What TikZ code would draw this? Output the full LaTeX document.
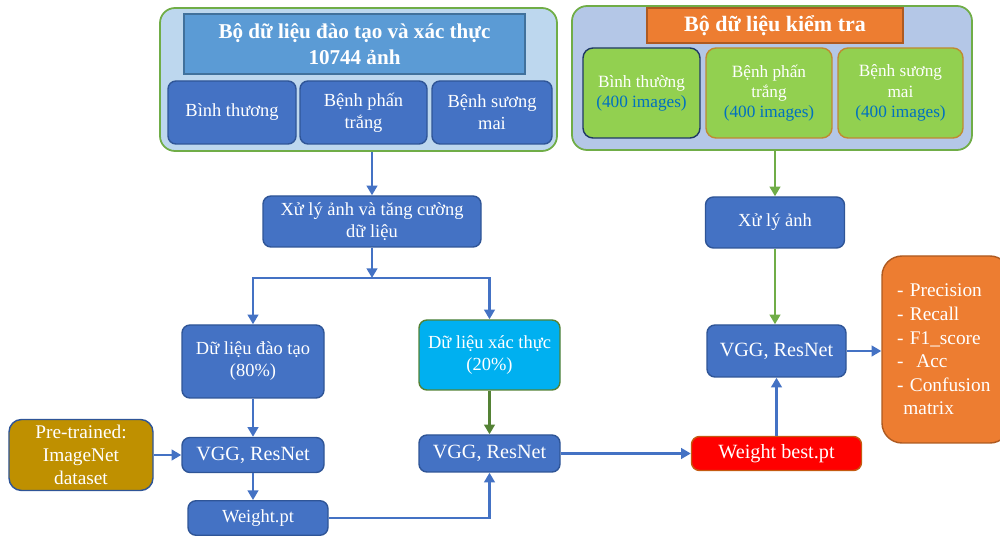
\documentclass[tikz,border=0pt]{standalone}
\usepackage{fontspec}
\setmainfont{Liberation Serif}
\usetikzlibrary{arrows.meta}

\definecolor{boxblue}{HTML}{4472C4}
\definecolor{boxedge}{HTML}{2F5597}
\definecolor{titleblue}{HTML}{5B9BD5}
\definecolor{titleedge}{HTML}{41719C}
\definecolor{groupleft}{HTML}{BDD7EE}
\definecolor{groupright}{HTML}{B4C7E7}
\definecolor{groupedge}{HTML}{70AD47}
\definecolor{orangebox}{HTML}{ED7D31}
\definecolor{orangeedge}{HTML}{AE5A21}
\definecolor{greenbox}{HTML}{92D050}
\definecolor{greenedge}{HTML}{548235}
\definecolor{navyedge}{HTML}{1F3864}
\definecolor{brownedge}{HTML}{C55A11}
\definecolor{goldedge}{HTML}{C08A30}
\definecolor{cyanbox}{HTML}{00B0F0}
\definecolor{goldbox}{HTML}{BF9000}
\definecolor{imgblue}{HTML}{0070C0}

\begin{document}
\begin{tikzpicture}[
		group/.style={draw=groupedge, line width=1pt, rounded corners=0.3cm, inner sep=0pt},
		bluebox/.style={draw=boxedge, fill=boxblue, line width=0.8pt, rounded corners=0.16cm,
			text=white, align=center, inner sep=0pt, font=\fontsize{10.5}{12.5}\selectfont},
		testbox/.style={fill=greenbox, line width=0.8pt, rounded corners=0.2cm,
			text=white, align=center, inner sep=0pt, font=\fontsize{9.8}{11.5}\selectfont},
		flow/.style={draw=boxblue, line width=1.6pt, -{Triangle[length=5.5pt,width=6pt]}},
		testflow/.style={flow, draw=groupedge}
	]
		% Page frame
		\useasboundingbox (0,0) rectangle (20,-10.72);
		\clip (0,0) rectangle (20,-10.72);
		
		% Training and validation set
		\node[group, fill=groupleft, minimum width=7.94cm, minimum height=2.86cm] (trainset) at (7.17,-1.59) {};
		\node[draw=titleedge, fill=titleblue, line width=0.8pt, minimum width=6.82cm, minimum height=1.2cm,
			text=white, align=center, font=\bfseries\fontsize{12}{14.7}\selectfont] (traintitle) at (7.09,-0.88)
			{Bộ dữ liệu đào tạo và xác thực\\10744 ảnh};
		\node[bluebox, minimum width=2.56cm, minimum height=1.26cm] (trainnormal) at (4.64,-2.25) {Bình thương};
		\node[bluebox, minimum width=2.54cm, minimum height=1.26cm] (trainpowdery) at (7.27,-2.25) {Bệnh phấn\\trắng};
		\node[bluebox, minimum width=2.4cm, minimum height=1.26cm] (trainblight) at (9.84,-2.25) {Bệnh sương\\mai};
		
		% Test set
		\node[group, fill=groupright, minimum width=8cm, minimum height=2.88cm] (testset) at (15.44,-1.56) {};
		\node[draw=orangeedge, fill=orangebox, line width=0.8pt, minimum width=5.12cm, minimum height=0.7cm,
			text=white, font=\bfseries\fontsize{12.5}{15}\selectfont] (testtitle) at (15.5,-0.51) {Bộ dữ liệu kiểm tra};
		\node[testbox, draw=navyedge, minimum width=2.34cm, minimum height=1.8cm] (testnormal) at (12.83,-1.86)
			{Bình thường\\\textcolor{imgblue}{(400 images)}};
		\node[testbox, draw=goldedge, minimum width=2.52cm, minimum height=1.8cm] (testpowdery) at (15.38,-1.86)
			{Bệnh phấn\\trắng\\\textcolor{imgblue}{(400 images)}};
		\node[testbox, draw=goldedge, minimum width=2.5cm, minimum height=1.8cm] (testblight) at (18.01,-1.86)
			{Bệnh sương\\mai\\\textcolor{imgblue}{(400 images)}};
		
		% Training branch
		\node[bluebox, minimum width=4.36cm, minimum height=1.02cm] (prep) at (7.44,-4.43) {Xử lý ảnh và tăng cường\\dữ liệu};
		\coordinate (split) at (7.44,-5.56);
		\node[bluebox, minimum width=2.84cm, minimum height=1.46cm] (traindata) at (5.06,-7.23) {Dữ liệu đào tạo\\(80\%)};
		\node[bluebox, fill=cyanbox, draw=greenedge, minimum width=2.82cm, minimum height=1.4cm] (valdata) at (9.79,-7.10)
			{Dữ liệu xác thực\\(20\%)};
		\node[bluebox, minimum width=2.84cm, minimum height=0.7cm, font=\fontsize{11.5}{13.5}\selectfont] (trainnet) at (5.06,-9.1) {VGG, ResNet};
		\node[bluebox, minimum width=2.82cm, minimum height=0.74cm, font=\fontsize{11.5}{13.5}\selectfont] (valnet) at (9.79,-9.07) {VGG, ResNet};
		\node[bluebox, fill=goldbox, minimum width=2.88cm, minimum height=1.42cm, rounded corners=0.25cm,
			font=\fontsize{11}{13}\selectfont] (pretrained) at (1.62,-9.1) {Pre-trained:\\ImageNet\\dataset};
		\node[bluebox, minimum width=2.8cm, minimum height=0.69cm, font=\fontsize{10.5}{12.5}\selectfont] (weight) at (5.16,-10.36) {Weight.pt};
		
		% Test branch
		\node[bluebox, minimum width=2.78cm, minimum height=1.02cm] (testprep) at (15.5,-4.45) {Xử lý ảnh};
		\node[bluebox, minimum width=2.78cm, minimum height=1.04cm, font=\fontsize{11.5}{13.5}\selectfont] (testnet) at (15.53,-7.02) {VGG, ResNet};
		\node[bluebox, fill=red, draw=brownedge, minimum width=3.4cm, minimum height=0.68cm,
			font=\fontsize{11.5}{13.5}\selectfont] (bestweight) at (15.53,-9.07) {Weight best.pt};
		\node[bluebox, fill=orangebox, draw=orangeedge, minimum width=2.56cm, minimum height=3.74cm,
			rounded corners=0.4cm, align=left, text width=1.96cm, inner xsep=0.3cm,
			font=\fontsize{11}{13.4}\selectfont] (metrics) at (18.92,-6.99)
			{- Precision\\- Recall\\- F1\_score\\-\ \ Acc\\- Confusion\\\ matrix};
		
		% Connectors
		\draw[flow] (trainset.south -| prep.north) -- (prep.north);
		\draw[flow] (prep.south) -- (split);
		\draw[flow] (split) -| (traindata.north);
		\draw[flow] (split) -| (valdata.north);
		\draw[flow, draw=greenedge] (valdata.south) -- (valnet.north);
		\draw[flow] (traindata.south) -- (trainnet.north);
		\draw[flow] (pretrained.east) -- (trainnet.west);
		\draw[flow] (trainnet.south) -- (weight.north -| trainnet.south);
		\draw[flow] (weight.east) -| (valnet.south);
		\draw[flow] (valnet.east) -- (bestweight.west);
		\draw[flow] (bestweight.north) -- (testnet.south);
		\draw[testflow] (testset.south -| testprep.north) -- (testprep.north);
		\draw[testflow] (testprep.south) -- (testprep.south |- testnet.north);
		\draw[flow] (testnet.east) -- (metrics.west |- testnet.east);
	\end{tikzpicture}
\end{document}
